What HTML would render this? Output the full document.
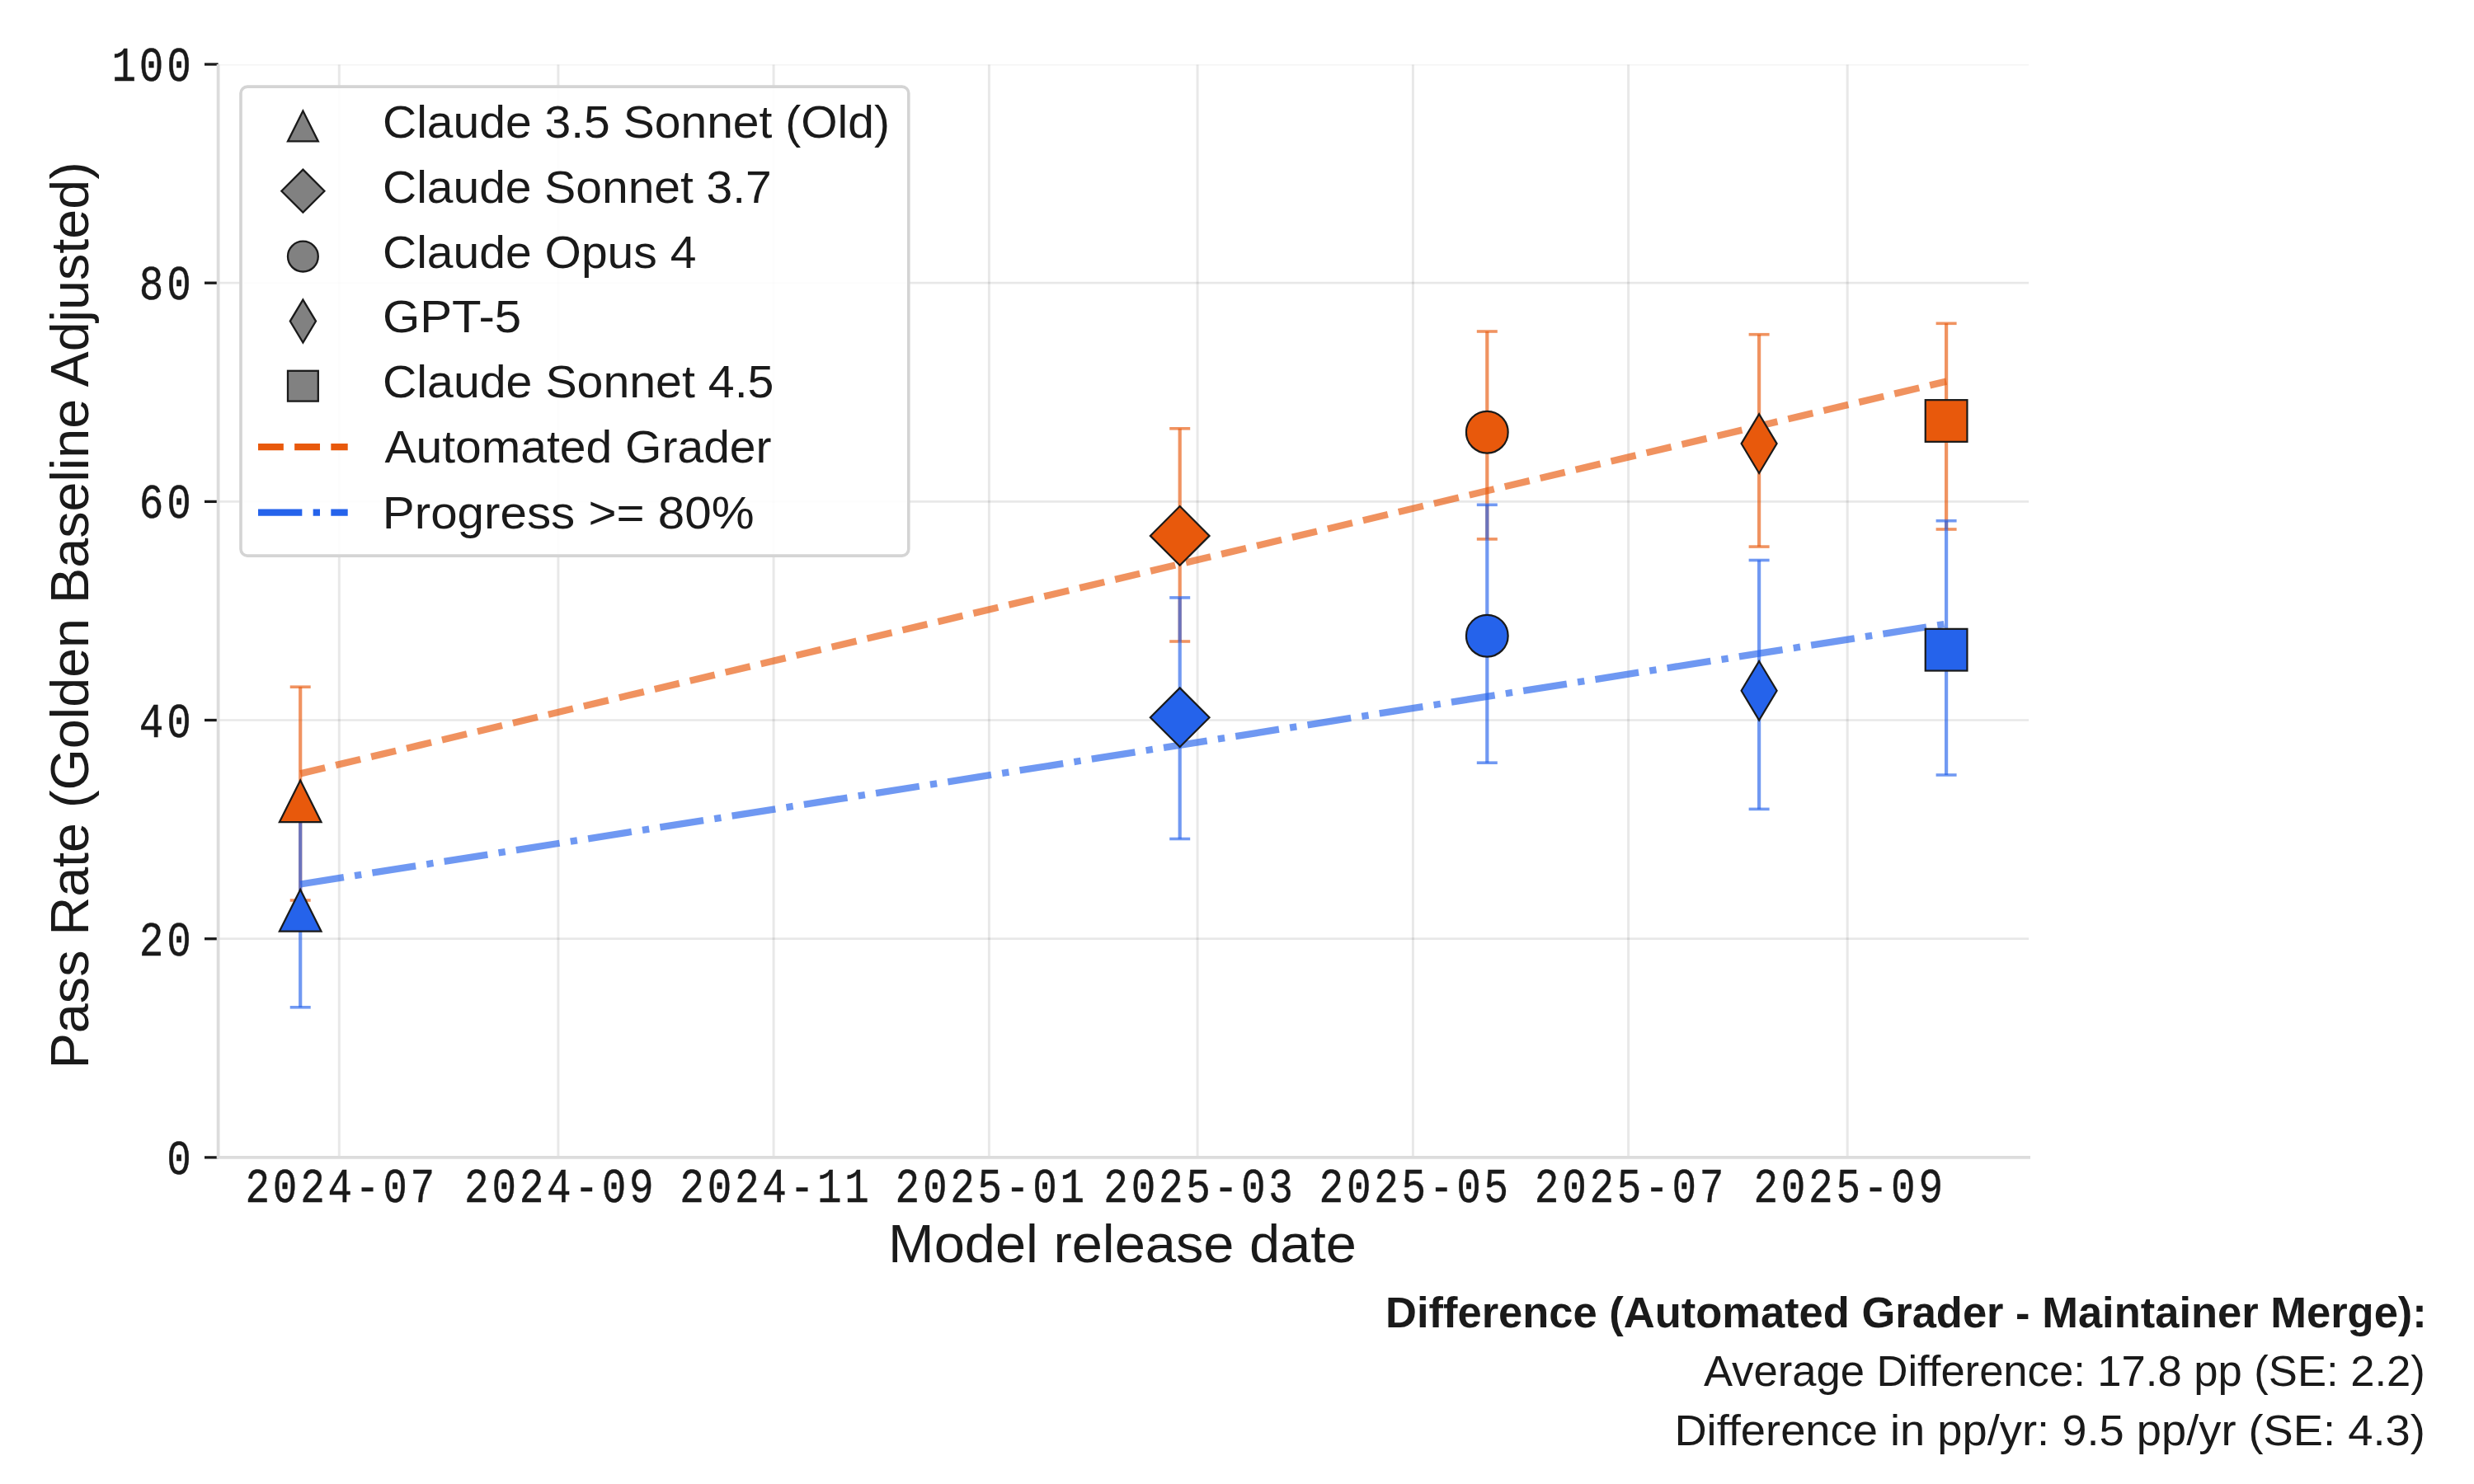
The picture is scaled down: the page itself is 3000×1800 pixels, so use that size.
<!DOCTYPE html>
<html lang="en">
<head>
<meta charset="utf-8">
<title>Pass rate by model release date</title>
<style>
html,body{margin:0;padding:0;background:#ffffff;}
body{width:3000px;height:1800px;overflow:hidden;font-family:"Liberation Sans",sans-serif;}
svg{display:block;}
</style>
</head>
<body>
<svg width="3000" height="1800" viewBox="0 0 3000 1800">
<rect x="0" y="0" width="3000" height="1800" fill="#ffffff"/>
<clipPath id="axclip"><rect x="264.6" y="78.5" width="2195.5" height="1325.4"/></clipPath>
<g clip-path="url(#axclip)" stroke="#000000" stroke-opacity="0.092" stroke-width="2.7" fill="none">
<line x1="411.3" y1="78.0" x2="411.3" y2="1403.9" stroke-width="3.0"/>
<line x1="676.9" y1="78.0" x2="676.9" y2="1403.9" stroke-width="3.0"/>
<line x1="938.1" y1="78.0" x2="938.1" y2="1403.9" stroke-width="3.0"/>
<line x1="1199.4" y1="78.0" x2="1199.4" y2="1403.9" stroke-width="3.0"/>
<line x1="1452.1" y1="78.0" x2="1452.1" y2="1403.9" stroke-width="3.0"/>
<line x1="1713.4" y1="78.0" x2="1713.4" y2="1403.9" stroke-width="3.0"/>
<line x1="1974.6" y1="78.0" x2="1974.6" y2="1403.9" stroke-width="3.0"/>
<line x1="2240.2" y1="78.0" x2="2240.2" y2="1403.9" stroke-width="3.0"/>
<line x1="264.6" y1="1403.9" x2="2461.7" y2="1403.9"/>
<line x1="264.6" y1="1138.7" x2="2461.7" y2="1138.7"/>
<line x1="264.6" y1="873.5" x2="2461.7" y2="873.5"/>
<line x1="264.6" y1="608.4" x2="2461.7" y2="608.4"/>
<line x1="264.6" y1="343.2" x2="2461.7" y2="343.2"/>
<line x1="264.6" y1="78.0" x2="2461.7" y2="78.0"/>
</g>
<g stroke="#1a1a1a" stroke-width="3.3">
<line x1="248" y1="1403.9" x2="264.6" y2="1403.9"/>
<line x1="248" y1="1138.7" x2="264.6" y2="1138.7"/>
<line x1="248" y1="873.5" x2="264.6" y2="873.5"/>
<line x1="248" y1="608.4" x2="264.6" y2="608.4"/>
<line x1="248" y1="343.2" x2="264.6" y2="343.2"/>
<line x1="248" y1="78.0" x2="264.6" y2="78.0"/>
</g>
<path d="M264.6,78.0 L264.6,1403.9 L2462,1403.9" fill="none" stroke="#dcdcdc" stroke-width="3.8" stroke-linejoin="miter"/>
<text transform="translate(235.55,1423.9) scale(0.91,1.08)" x="0" y="0" font-family="Liberation Mono, monospace" font-size="54.2" letter-spacing="4.12" text-anchor="end" fill="#1a1a1a" stroke="#1a1a1a" stroke-width="0.4">0</text>
<text transform="translate(235.55,1158.7) scale(0.91,1.08)" x="0" y="0" font-family="Liberation Mono, monospace" font-size="54.2" letter-spacing="4.12" text-anchor="end" fill="#1a1a1a" stroke="#1a1a1a" stroke-width="0.4">20</text>
<text transform="translate(235.55,893.5) scale(0.91,1.08)" x="0" y="0" font-family="Liberation Mono, monospace" font-size="54.2" letter-spacing="4.12" text-anchor="end" fill="#1a1a1a" stroke="#1a1a1a" stroke-width="0.4">40</text>
<text transform="translate(235.55,628.4) scale(0.91,1.08)" x="0" y="0" font-family="Liberation Mono, monospace" font-size="54.2" letter-spacing="4.12" text-anchor="end" fill="#1a1a1a" stroke="#1a1a1a" stroke-width="0.4">60</text>
<text transform="translate(235.55,363.2) scale(0.91,1.08)" x="0" y="0" font-family="Liberation Mono, monospace" font-size="54.2" letter-spacing="4.12" text-anchor="end" fill="#1a1a1a" stroke="#1a1a1a" stroke-width="0.4">80</text>
<text transform="translate(235.55,98.0) scale(0.91,1.08)" x="0" y="0" font-family="Liberation Mono, monospace" font-size="54.2" letter-spacing="4.12" text-anchor="end" fill="#1a1a1a" stroke="#1a1a1a" stroke-width="0.4">100</text>
<text transform="translate(414.17,1457.9) scale(0.91,1.08)" x="0" y="0" font-family="Liberation Mono, monospace" font-size="54.2" letter-spacing="4.12" text-anchor="middle" fill="#1a1a1a" stroke="#1a1a1a" stroke-width="0.4">2024-07</text>
<text transform="translate(679.77,1457.9) scale(0.91,1.08)" x="0" y="0" font-family="Liberation Mono, monospace" font-size="54.2" letter-spacing="4.12" text-anchor="middle" fill="#1a1a1a" stroke="#1a1a1a" stroke-width="0.4">2024-09</text>
<text transform="translate(940.97,1457.9) scale(0.91,1.08)" x="0" y="0" font-family="Liberation Mono, monospace" font-size="54.2" letter-spacing="4.12" text-anchor="middle" fill="#1a1a1a" stroke="#1a1a1a" stroke-width="0.4">2024-11</text>
<text transform="translate(1202.27,1457.9) scale(0.91,1.08)" x="0" y="0" font-family="Liberation Mono, monospace" font-size="54.2" letter-spacing="4.12" text-anchor="middle" fill="#1a1a1a" stroke="#1a1a1a" stroke-width="0.4">2025-01</text>
<text transform="translate(1454.97,1457.9) scale(0.91,1.08)" x="0" y="0" font-family="Liberation Mono, monospace" font-size="54.2" letter-spacing="4.12" text-anchor="middle" fill="#1a1a1a" stroke="#1a1a1a" stroke-width="0.4">2025-03</text>
<text transform="translate(1716.27,1457.9) scale(0.91,1.08)" x="0" y="0" font-family="Liberation Mono, monospace" font-size="54.2" letter-spacing="4.12" text-anchor="middle" fill="#1a1a1a" stroke="#1a1a1a" stroke-width="0.4">2025-05</text>
<text transform="translate(1977.47,1457.9) scale(0.91,1.08)" x="0" y="0" font-family="Liberation Mono, monospace" font-size="54.2" letter-spacing="4.12" text-anchor="middle" fill="#1a1a1a" stroke="#1a1a1a" stroke-width="0.4">2025-07</text>
<text transform="translate(2243.07,1457.9) scale(0.91,1.08)" x="0" y="0" font-family="Liberation Mono, monospace" font-size="54.2" letter-spacing="4.12" text-anchor="middle" fill="#1a1a1a" stroke="#1a1a1a" stroke-width="0.4">2025-09</text>
<text x="1077.0" y="1530.6" font-family="Liberation Sans, sans-serif" font-size="64" textLength="568.0" lengthAdjust="spacingAndGlyphs" fill="#1a1a1a">Model release date</text>
<text transform="translate(106.9,745.3) rotate(-90)" x="-551.0" y="0" font-family="Liberation Sans, sans-serif" font-size="64" textLength="1100.0" lengthAdjust="spacingAndGlyphs" fill="#1a1a1a">Pass Rate (Golden Baseline Adjusted)</text>
<g stroke="#e8590c" stroke-opacity="0.65" stroke-width="4.2" fill="none">
<line x1="364.2" y1="833.2" x2="364.2" y2="1092.0"/>
<line x1="1430.7" y1="519.8" x2="1430.7" y2="778.0"/>
<line x1="1803.3" y1="402.0" x2="1803.3" y2="653.9"/>
<line x1="2133.1" y1="405.7" x2="2133.1" y2="663.1"/>
<line x1="2360.1" y1="392.3" x2="2360.1" y2="642.0"/>
</g>
<g stroke="#e8590c" stroke-opacity="0.65" stroke-width="3.6" fill="none">
<line x1="351.7" y1="833.2" x2="376.7" y2="833.2"/>
<line x1="351.7" y1="1092.0" x2="376.7" y2="1092.0"/>
<line x1="1418.2" y1="519.8" x2="1443.2" y2="519.8"/>
<line x1="1418.2" y1="778.0" x2="1443.2" y2="778.0"/>
<line x1="1790.8" y1="402.0" x2="1815.8" y2="402.0"/>
<line x1="1790.8" y1="653.9" x2="1815.8" y2="653.9"/>
<line x1="2120.6" y1="405.7" x2="2145.6" y2="405.7"/>
<line x1="2120.6" y1="663.1" x2="2145.6" y2="663.1"/>
<line x1="2347.6" y1="392.3" x2="2372.6" y2="392.3"/>
<line x1="2347.6" y1="642.0" x2="2372.6" y2="642.0"/>
</g>
<g stroke="#2563eb" stroke-opacity="0.65" stroke-width="4.2" fill="none">
<line x1="364.2" y1="987.0" x2="364.2" y2="1221.8"/>
<line x1="1430.7" y1="724.9" x2="1430.7" y2="1017.5"/>
<line x1="1803.3" y1="612.3" x2="1803.3" y2="925.2"/>
<line x1="2133.1" y1="679.5" x2="2133.1" y2="981.4"/>
<line x1="2360.1" y1="631.7" x2="2360.1" y2="940.0"/>
</g>
<g stroke="#2563eb" stroke-opacity="0.65" stroke-width="3.6" fill="none">
<line x1="351.7" y1="987.0" x2="376.7" y2="987.0"/>
<line x1="351.7" y1="1221.8" x2="376.7" y2="1221.8"/>
<line x1="1418.2" y1="724.9" x2="1443.2" y2="724.9"/>
<line x1="1418.2" y1="1017.5" x2="1443.2" y2="1017.5"/>
<line x1="1790.8" y1="612.3" x2="1815.8" y2="612.3"/>
<line x1="1790.8" y1="925.2" x2="1815.8" y2="925.2"/>
<line x1="2120.6" y1="679.5" x2="2145.6" y2="679.5"/>
<line x1="2120.6" y1="981.4" x2="2145.6" y2="981.4"/>
<line x1="2347.6" y1="631.7" x2="2372.6" y2="631.7"/>
<line x1="2347.6" y1="940.0" x2="2372.6" y2="940.0"/>
</g>
<line x1="364.2" y1="938.4" x2="2360.1" y2="462.6" stroke="#e8590c" stroke-opacity="0.66" stroke-width="8.33" stroke-dasharray="30.83 13.33"/>
<line x1="364.2" y1="1072.5" x2="2360.1" y2="756.7" stroke="#2563eb" stroke-opacity="0.66" stroke-width="8.33" stroke-dasharray="53.33 13.33 8.33 13.33"/>
<path d="M364.2,946.4499999999999 L338.84999999999997,997.15 L389.55,997.15 Z" fill="#e8590c" stroke="#1a1a1a" stroke-width="2.2" stroke-linejoin="miter"/>
<path d="M1430.7,614.05 L1466.55,649.9 L1430.7,685.75 L1394.85,649.9 Z" fill="#e8590c" stroke="#1a1a1a" stroke-width="2.2" stroke-linejoin="miter"/>
<circle cx="1803.3" cy="524.2" r="25.35" fill="#e8590c" stroke="#1a1a1a" stroke-width="2.2"/>
<path d="M2133.1,502.25 L2154.61,538.1 L2133.1,573.95 L2111.59,538.1 Z" fill="#e8590c" stroke="#1a1a1a" stroke-width="2.2" stroke-linejoin="miter"/>
<rect x="2334.75" y="485.15" width="50.7" height="50.7" fill="#e8590c" stroke="#1a1a1a" stroke-width="2.2"/>
<path d="M364.2,1078.95 L338.84999999999997,1129.6499999999999 L389.55,1129.6499999999999 Z" fill="#2563eb" stroke="#1a1a1a" stroke-width="2.2" stroke-linejoin="miter"/>
<path d="M1430.7,834.35 L1466.55,870.2 L1430.7,906.05 L1394.85,870.2 Z" fill="#2563eb" stroke="#1a1a1a" stroke-width="2.2" stroke-linejoin="miter"/>
<circle cx="1803.3" cy="771.2" r="25.35" fill="#2563eb" stroke="#1a1a1a" stroke-width="2.2"/>
<path d="M2133.1,801.95 L2154.61,837.8 L2133.1,873.65 L2111.59,837.8 Z" fill="#2563eb" stroke="#1a1a1a" stroke-width="2.2" stroke-linejoin="miter"/>
<rect x="2334.75" y="762.85" width="50.7" height="50.7" fill="#2563eb" stroke="#1a1a1a" stroke-width="2.2"/>
<rect x="292" y="105.1" width="809.8" height="569" rx="8" ry="8" fill="#ffffff" fill-opacity="0.9" stroke="#d4d4d4" stroke-width="3.6"/>
<path d="M367.4,134.6 L349.0,171.4 L385.79999999999995,171.4 Z" fill="#818181" stroke="#1a1a1a" stroke-width="2.3" stroke-linejoin="miter"/>
<path d="M367.4,205.68 L393.42,231.7 L367.4,257.72 L341.38,231.7 Z" fill="#818181" stroke="#1a1a1a" stroke-width="2.3" stroke-linejoin="miter"/>
<circle cx="367.4" cy="311.1" r="18.4" fill="#818181" stroke="#1a1a1a" stroke-width="2.3"/>
<path d="M367.4,363.58 L383.01,389.6 L367.4,415.62 L351.79,389.6 Z" fill="#818181" stroke="#1a1a1a" stroke-width="2.3" stroke-linejoin="miter"/>
<rect x="349.0" y="449.8" width="36.8" height="36.8" fill="#818181" stroke="#1a1a1a" stroke-width="2.3"/>
<line x1="313" y1="542.2" x2="421.7" y2="542.2" stroke="#e8590c" stroke-width="8.33" stroke-dasharray="30.83 13.33"/>
<line x1="313" y1="621.6" x2="421.7" y2="621.6" stroke="#2563eb" stroke-width="8.33" stroke-dasharray="53.33 13.33 8.33 13.33"/>
<text x="464.0" y="166.8" font-family="Liberation Sans, sans-serif" font-size="55.5" textLength="615.0" lengthAdjust="spacingAndGlyphs" fill="#1a1a1a">Claude 3.5 Sonnet (Old)</text>
<text x="464.0" y="245.7" font-family="Liberation Sans, sans-serif" font-size="55.5" textLength="471.8" lengthAdjust="spacingAndGlyphs" fill="#1a1a1a">Claude Sonnet 3.7</text>
<text x="464.0" y="324.8" font-family="Liberation Sans, sans-serif" font-size="55.5" textLength="380.4" lengthAdjust="spacingAndGlyphs" fill="#1a1a1a">Claude Opus 4</text>
<text x="464.0" y="403.4" font-family="Liberation Sans, sans-serif" font-size="55.5" textLength="168.2" lengthAdjust="spacingAndGlyphs" fill="#1a1a1a">GPT-5</text>
<text x="464.0" y="482.3" font-family="Liberation Sans, sans-serif" font-size="55.5" textLength="474.4" lengthAdjust="spacingAndGlyphs" fill="#1a1a1a">Claude Sonnet 4.5</text>
<text x="466.4" y="561.4" font-family="Liberation Sans, sans-serif" font-size="55.5" textLength="469.2" lengthAdjust="spacingAndGlyphs" fill="#1a1a1a">Automated Grader</text>
<text x="463.8" y="640.6" font-family="Liberation Sans, sans-serif" font-size="55.5" textLength="450.8" lengthAdjust="spacingAndGlyphs" fill="#1a1a1a">Progress &gt;= 80%</text>
<text x="1680.0" y="1609.8" font-family="Liberation Sans, sans-serif" font-size="51" font-weight="bold" textLength="1262.8" lengthAdjust="spacingAndGlyphs" fill="#1a1a1a">Difference (Automated Grader - Maintainer Merge):</text>
<text x="2066.0" y="1681.3" font-family="Liberation Sans, sans-serif" font-size="51" textLength="874.8" lengthAdjust="spacingAndGlyphs" fill="#1a1a1a">Average Difference: 17.8 pp (SE: 2.2)</text>
<text x="2030.4" y="1753.3" font-family="Liberation Sans, sans-serif" font-size="51" textLength="910.4" lengthAdjust="spacingAndGlyphs" fill="#1a1a1a">Difference in pp/yr: 9.5 pp/yr (SE: 4.3)</text>
</svg>
</body>
</html>
